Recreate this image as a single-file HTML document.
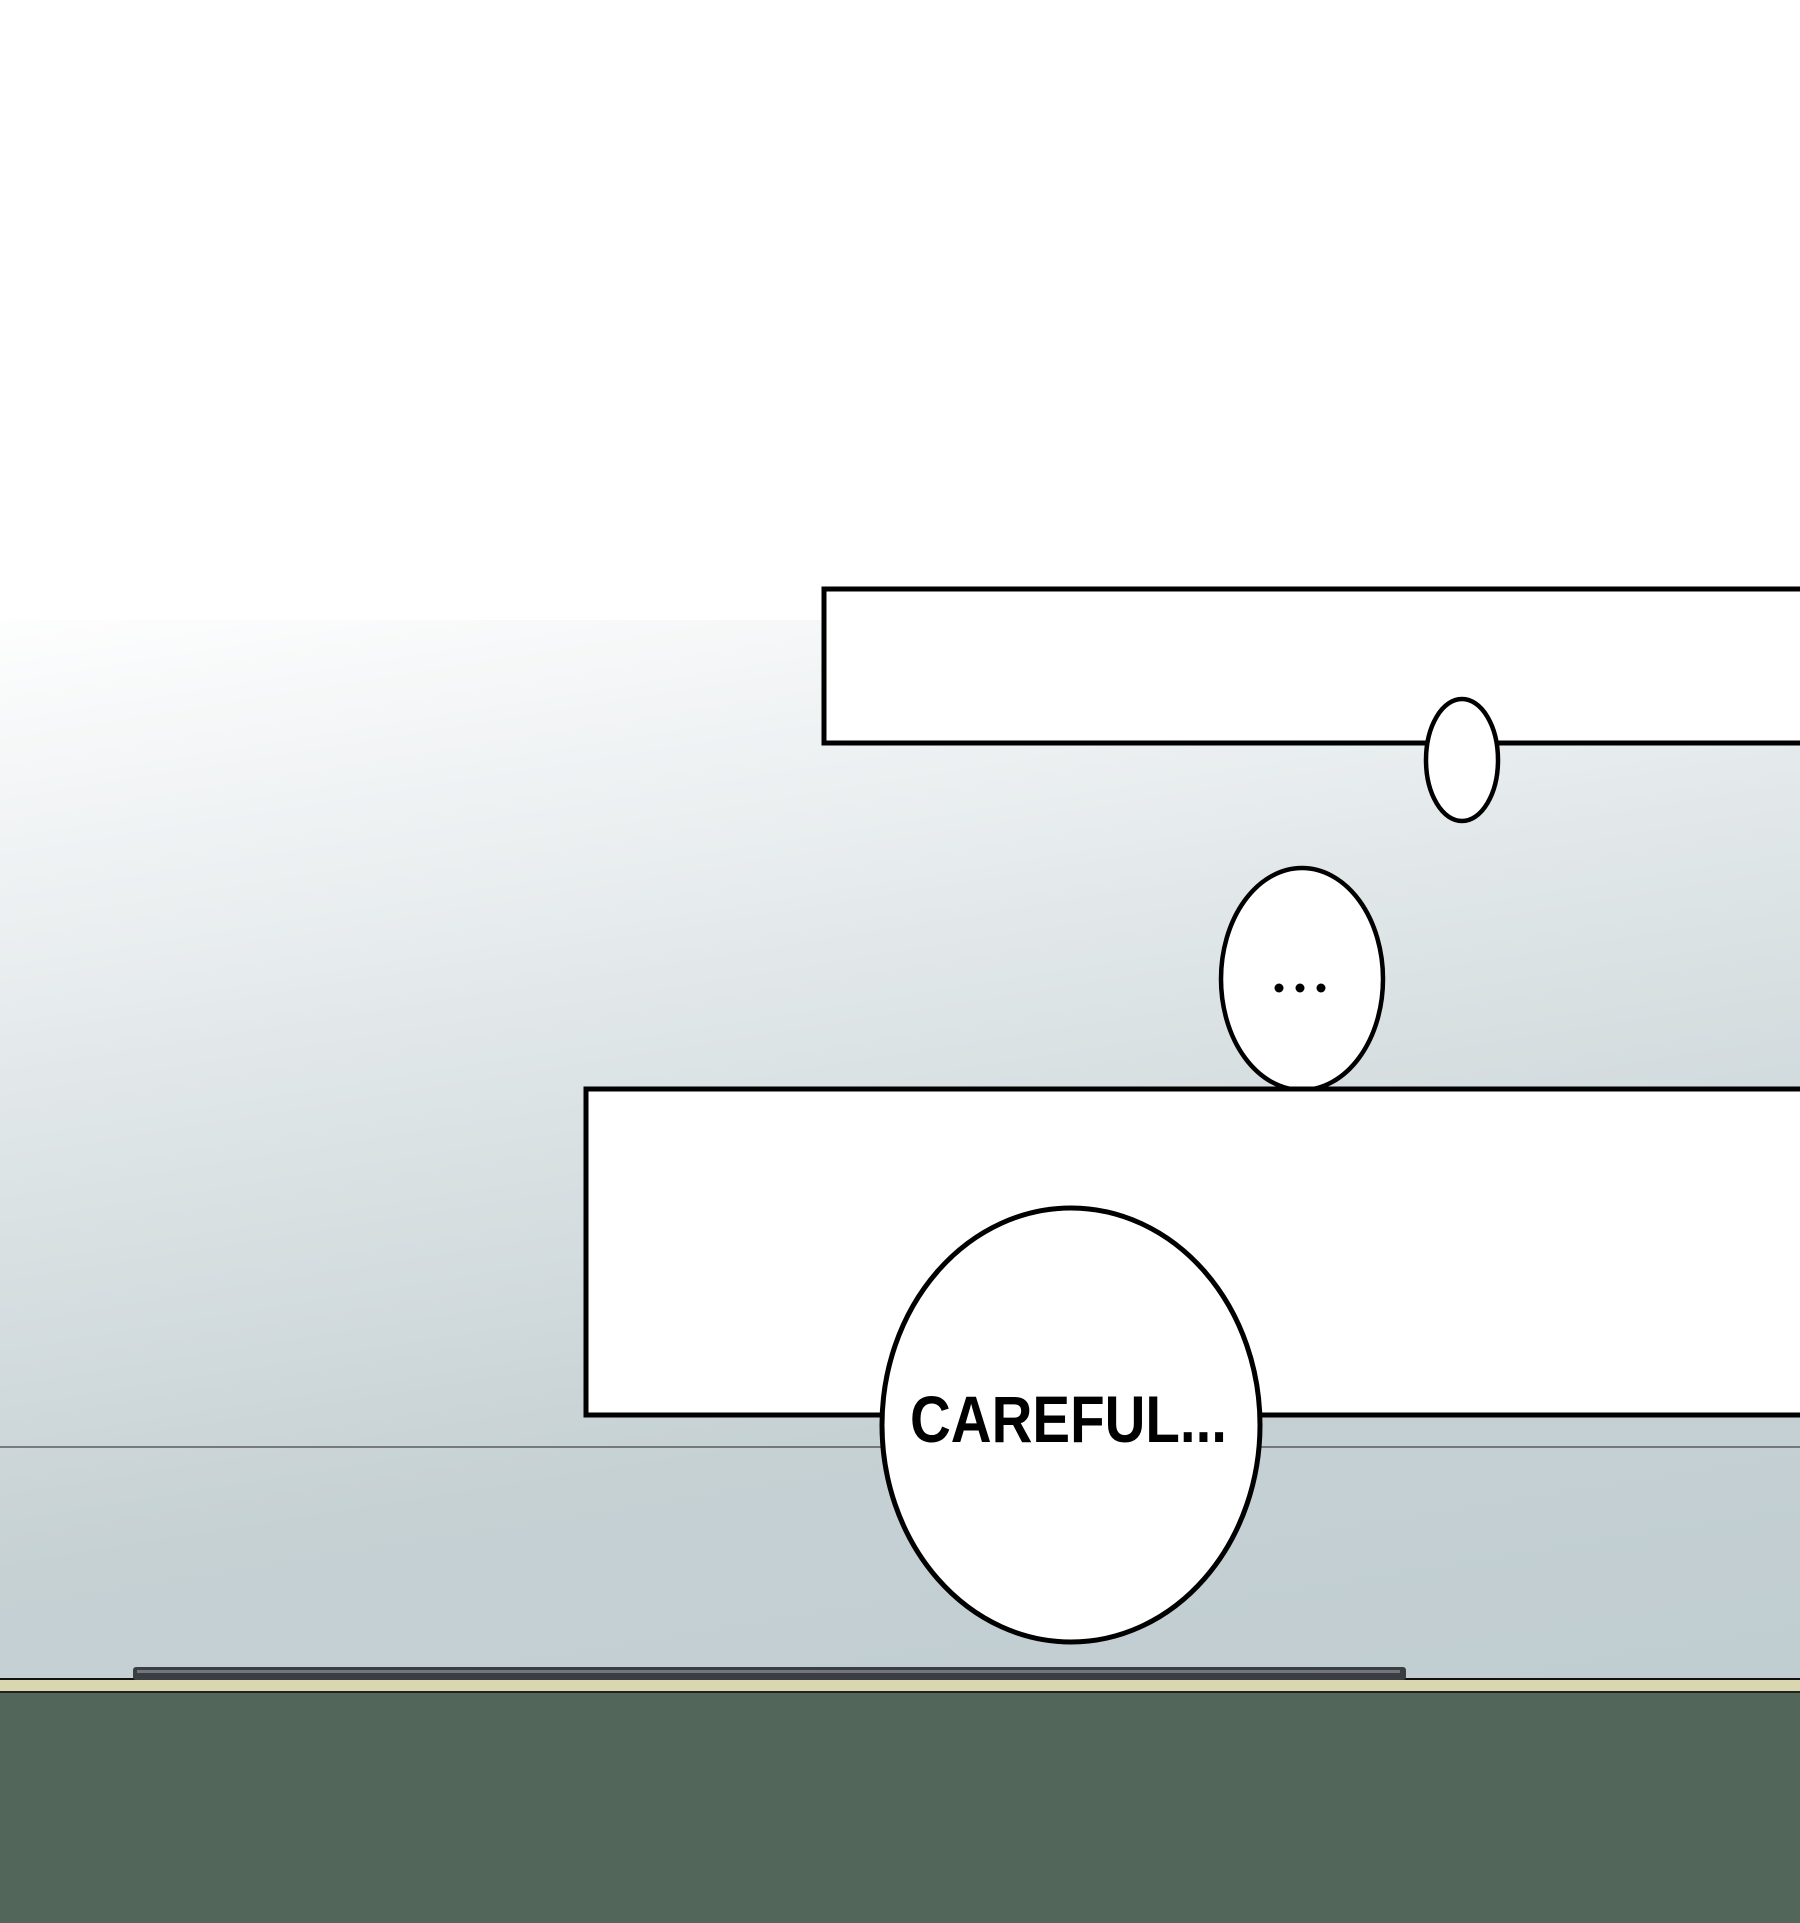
<!DOCTYPE html>
<html><head><style>html,body{margin:0;padding:0;width:1800px;height:1923px;overflow:hidden}</style></head>
<body>
<svg width="1800" height="1923" xmlns="http://www.w3.org/2000/svg">
<defs>
<linearGradient id="bg" x1="0" y1="0" x2="0.15" y2="1">
<stop offset="0" stop-color="#ffffff"/>
<stop offset="0.3" stop-color="#ffffff"/>
<stop offset="0.55" stop-color="#e2e8ea"/>
<stop offset="0.8" stop-color="#c6d1d4"/>
<stop offset="1" stop-color="#c0cdd1"/>
</linearGradient>
</defs>
<rect width="1800" height="1923" fill="url(#bg)"/>
<rect width="1800" height="620" fill="#ffffff"/>
<line x1="0" y1="1447" x2="1800" y2="1447" stroke="#444" stroke-width="1.2"/>
<rect x="824" y="589" width="990" height="154" fill="#fff" stroke="#000" stroke-width="5"/>
<ellipse cx="1462" cy="760" rx="36" ry="61" fill="#fff" stroke="#000" stroke-width="4.5"/>
<ellipse cx="1302" cy="979" rx="81" ry="111" fill="#fff" stroke="#000" stroke-width="4.5"/>
<text x="1300" y="995" font-family="Liberation Sans, sans-serif" font-size="1" fill="#fff">...</text>
<circle cx="1279" cy="988" r="4.5" fill="#000"/>
<circle cx="1300" cy="988" r="4.5" fill="#000"/>
<circle cx="1321" cy="988" r="4.5" fill="#000"/>
<rect x="586" y="1089" width="1230" height="326" fill="#fff" stroke="#000" stroke-width="5"/>
<ellipse cx="1071" cy="1425" rx="189" ry="217" fill="#fff" stroke="#000" stroke-width="5"/>
<text x="910" y="1442" font-family="Liberation Sans, sans-serif" font-weight="bold" font-size="66" textLength="317" lengthAdjust="spacingAndGlyphs">CAREFUL...</text>
<rect x="0" y="1678" width="1800" height="14" fill="#d9d6b0"/>
<line x1="0" y1="1679" x2="1800" y2="1679" stroke="#111" stroke-width="2"/>
<rect x="133" y="1667" width="1273" height="13" rx="3" fill="#3a3e42"/>
<rect x="137" y="1670" width="1263" height="3" fill="#70767c"/>
<rect x="0" y="1692" width="1800" height="231" fill="#52665a"/>
<line x1="0" y1="1692" x2="1800" y2="1692" stroke="#222" stroke-width="2"/>
</svg>
</body></html>
